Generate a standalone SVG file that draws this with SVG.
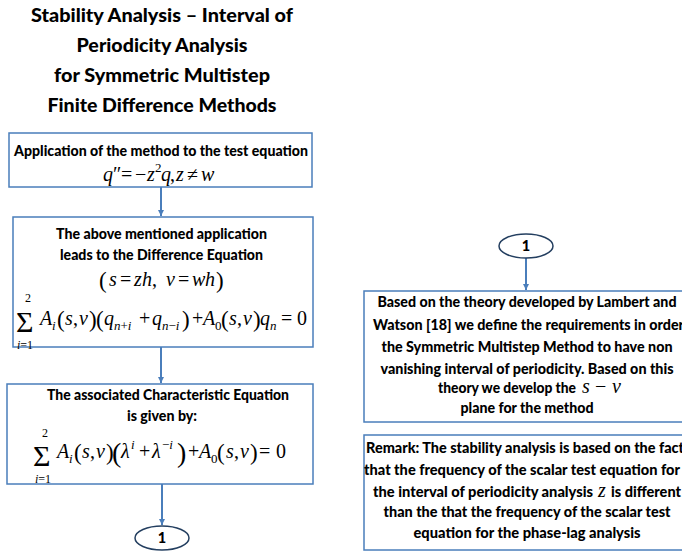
<svg xmlns="http://www.w3.org/2000/svg" width="682" height="554" viewBox="0 0 682 554">
<defs>
<marker id="ah" markerWidth="7" markerHeight="7" refX="6" refY="3.5" orient="auto" markerUnits="userSpaceOnUse">
<path d="M0,0.5 L6,3.5 L0,6.5 z" fill="#4a7ebb"/>
</marker>
</defs>
<style>
.box{fill:#fff;stroke:#4a7ebb;stroke-width:1.5}
.t{font-family:Lato,"Liberation Sans",sans-serif;font-weight:900;font-size:14.5px;fill:#000}
.ttl{font-size:19.5px}
.mid{text-anchor:middle}
.m{font-family:"Liberation Serif","Times New Roman",serif;font-size:20px;font-style:italic;fill:#000}
.u{font-style:normal}
.s12{font-size:13px}
.p{font-style:normal;font-size:23px}
.sig{font-family:"Liberation Serif","Times New Roman",serif;font-size:30px;fill:#000}
.lim{font-family:"Liberation Serif","Times New Roman",serif;font-size:12px;fill:#000}
.conn{stroke:#4a7ebb;stroke-width:2;fill:none;marker-end:url(#ah)}
.oval{fill:#fff;stroke:#243f60;stroke-width:1.5}
</style>

<g id="title">
<text class="t ttl mid" x="162" y="22" textLength="262" lengthAdjust="spacingAndGlyphs">Stability Analysis – Interval of</text>
<text class="t ttl mid" x="162" y="52" textLength="171" lengthAdjust="spacingAndGlyphs">Periodicity Analysis</text>
<text class="t ttl mid" x="162" y="82" textLength="216" lengthAdjust="spacingAndGlyphs">for Symmetric Multistep</text>
<text class="t ttl mid" x="162" y="112" textLength="229" lengthAdjust="spacingAndGlyphs">Finite Difference Methods</text>
</g>

<g id="connectors">
<line class="conn" x1="161" y1="187" x2="161" y2="216"/>
<line class="conn" x1="161" y1="347" x2="161" y2="383"/>
<line class="conn" x1="162" y1="484" x2="162" y2="525"/>
<line class="conn" x1="526" y1="258" x2="526" y2="290"/>
</g>

<g id="n1">
<rect class="box" x="9" y="133" width="303" height="54"/>
<text class="t mid" x="161" y="156" textLength="294" lengthAdjust="spacingAndGlyphs">Application of the method to the test equation</text>
<text class="m" y="181" font-size="19"><tspan x="103">q</tspan><tspan x="113" class="u">″</tspan><tspan x="121" class="u">=</tspan><tspan x="135" class="u">−</tspan><tspan x="147">z</tspan><tspan x="155" y="172" class="u s12">2</tspan><tspan x="161" y="181">q</tspan><tspan x="170" class="u">,</tspan><tspan x="176">z</tspan><tspan x="187" class="u">≠</tspan><tspan x="201">w</tspan></text>
</g>

<g id="n2">
<rect class="box" x="13" y="217" width="300" height="130"/>
<text class="t mid" x="161.5" y="239" textLength="211" lengthAdjust="spacingAndGlyphs">The above mentioned application</text>
<text class="t mid" x="161.5" y="260" textLength="203" lengthAdjust="spacingAndGlyphs">leads to the Difference Equation</text>
<text class="m" y="286"><tspan x="99" y="288" class="p">(</tspan><tspan x="109" y="286">s</tspan><tspan x="120" class="u">=</tspan><tspan x="134">z</tspan><tspan x="142">h</tspan><tspan x="152" class="u">,</tspan><tspan x="166">v</tspan><tspan x="178" class="u">=</tspan><tspan x="192">w</tspan><tspan x="205">h</tspan><tspan x="216" y="288" class="p">)</tspan></text>
<text class="sig" x="16" y="332">Σ</text>
<text class="lim" x="25" y="302">2</text>
<text class="lim" x="17" y="349"><tspan font-style="italic">i</tspan>=1</text>
<text class="m" y="325"><tspan x="40">A</tspan><tspan x="52" y="330" class="s12">i</tspan><tspan x="57" y="327" class="p">(</tspan><tspan x="65" y="325">s</tspan><tspan x="73" class="u">,</tspan><tspan x="79">v</tspan><tspan x="89" y="327" class="p">)</tspan><tspan x="96" class="p">(</tspan><tspan x="104" y="325">q</tspan><tspan x="114" y="330" class="s12">n<tspan class="u">+</tspan>i</tspan><tspan x="139" y="325" class="u">+</tspan><tspan x="152">q</tspan><tspan x="162" y="330" class="s12">n<tspan class="u">−</tspan>i</tspan><tspan x="182" y="327" class="p">)</tspan><tspan x="192" y="325" class="u">+</tspan><tspan x="203">A</tspan><tspan x="215" y="330" class="u s12">0</tspan><tspan x="221" y="327" class="p">(</tspan><tspan x="229" y="325">s</tspan><tspan x="237" class="u">,</tspan><tspan x="243">v</tspan><tspan x="253" y="327" class="p">)</tspan><tspan x="260" y="325">q</tspan><tspan x="270" y="330" class="s12">n</tspan><tspan x="281" y="325" class="u">=</tspan><tspan x="297" class="u">0</tspan></text>
</g>

<g id="n3">
<rect class="box" x="7" y="384" width="306" height="100"/>
<text class="t mid" x="168" y="400" textLength="242" lengthAdjust="spacingAndGlyphs">The associated Characteristic Equation</text>
<text class="t mid" x="162" y="421" textLength="70" lengthAdjust="spacingAndGlyphs">is given by:</text>
<text class="sig" x="33" y="466">Σ</text>
<text class="lim" x="42" y="437">2</text>
<text class="lim" x="35" y="483"><tspan font-style="italic">i</tspan>=1</text>
<text class="m" y="458"><tspan x="57">A</tspan><tspan x="69" y="463" class="s12">i</tspan><tspan x="74" y="460" class="p">(</tspan><tspan x="82" y="458">s</tspan><tspan x="90" class="u">,</tspan><tspan x="96">v</tspan><tspan x="106" y="460" class="p">)</tspan><tspan x="112" y="462" class="u" font-size="28">(</tspan><tspan x="121" y="458">λ</tspan><tspan x="131" y="449" class="s12">i</tspan><tspan x="139" y="458" class="u">+</tspan><tspan x="152">λ</tspan><tspan x="162" y="449" class="s12"><tspan class="u">−</tspan>i</tspan><tspan x="177" y="462" class="u" font-size="28">)</tspan><tspan x="188" y="458" class="u">+</tspan><tspan x="199">A</tspan><tspan x="211" y="463" class="u s12">0</tspan><tspan x="217" y="460" class="p">(</tspan><tspan x="226" y="458">s</tspan><tspan x="234" class="u">,</tspan><tspan x="240">v</tspan><tspan x="250" y="460" class="p">)</tspan><tspan x="259" y="458" class="u">=</tspan><tspan x="276" class="u">0</tspan></text>
</g>

<g id="c1">
<ellipse class="oval" cx="162" cy="538" rx="27" ry="12"/>
<text class="t mid" x="162" y="543" font-size="15">1</text>
</g>

<g id="c2">
<ellipse class="oval" cx="526" cy="246" rx="27" ry="12"/>
<text class="t mid" x="526" y="251" font-size="15">1</text>
</g>

<g id="n4">
<rect class="box" x="364" y="291" width="330" height="131"/>
<text class="t mid" x="527" y="307" textLength="299" lengthAdjust="spacingAndGlyphs">Based on the theory developed by Lambert and</text>
<text class="t" x="373" y="330" textLength="311" lengthAdjust="spacingAndGlyphs">Watson [18] we define the requirements in order</text>
<text class="t mid" x="527" y="352" textLength="291" lengthAdjust="spacingAndGlyphs">the Symmetric Multistep Method to have non</text>
<text class="t mid" x="527" y="374" textLength="293" lengthAdjust="spacingAndGlyphs">vanishing interval of periodicity. Based on this</text>
<text class="t" x="438" y="393" textLength="138" lengthAdjust="spacingAndGlyphs">theory we develop the</text>
<text class="m" y="393" font-size="18"><tspan x="582">s</tspan><tspan x="595" class="u">−</tspan><tspan x="612">v</tspan></text>
<text class="t mid" x="527" y="413" textLength="133" lengthAdjust="spacingAndGlyphs">plane for the method</text>
</g>

<g id="n5">
<rect class="box" x="364" y="435" width="330" height="115"/>
<text class="t" x="366" y="453" textLength="318" lengthAdjust="spacingAndGlyphs">Remark: The stability analysis is based on the fact</text>
<text class="t" x="364" y="475" textLength="316" lengthAdjust="spacingAndGlyphs">that the frequency of the scalar test equation for</text>
<text class="t" x="373" y="497" textLength="220" lengthAdjust="spacingAndGlyphs">the interval of periodicity analysis</text>
<text class="m" x="598" y="497" font-size="18">z</text>
<text class="t" x="611" y="497" textLength="70" lengthAdjust="spacingAndGlyphs">is different</text>
<text class="t mid" x="527" y="517" textLength="287" lengthAdjust="spacingAndGlyphs">than the that the frequency of the scalar test</text>
<text class="t mid" x="527" y="538" textLength="227" lengthAdjust="spacingAndGlyphs">equation for the phase-lag analysis</text>
</g>
</svg>
